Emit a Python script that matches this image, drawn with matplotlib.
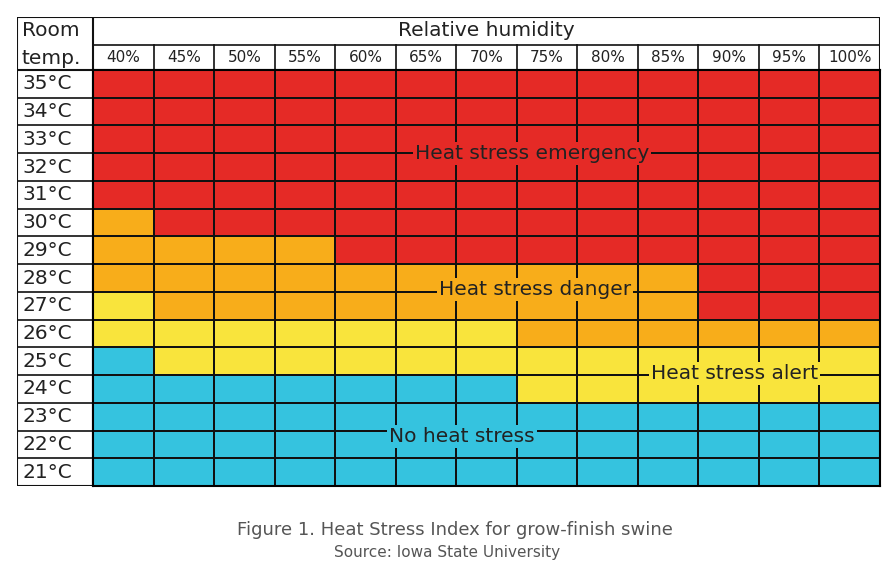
import numpy as np
import matplotlib.pyplot as plt
from matplotlib.colors import ListedColormap

humidity = ["40%", "45%", "50%", "55%", "60%", "65%", "70%", "75%", "80%", "85%", "90%", "95%", "100%"]
temps = ["35°C", "34°C", "33°C", "32°C", "31°C", "30°C", "29°C", "28°C", "27°C",
         "26°C", "25°C", "24°C", "23°C", "22°C", "21°C"]
# 0 = no heat stress, 1 = alert, 2 = danger, 3 = emergency
levels = [
    [3] * 13,
    [3] * 13,
    [3] * 13,
    [3] * 13,
    [3] * 13,
    [2] + [3] * 12,
    [2] * 4 + [3] * 9,
    [2] * 10 + [3] * 3,
    [1] + [2] * 9 + [3] * 3,
    [1] * 7 + [2] * 6,
    [0] + [1] * 12,
    [0] * 7 + [1] * 6,
    [0] * 13,
    [0] * 13,
    [0] * 13,
]
zone_labels = ["No heat stress", "Heat stress alert", "Heat stress danger", "Heat stress emergency"]
colors = ["#35c3df", "#f9e43c", "#f8ad1a", "#e52a26"]

W, H = 893, 568
fig = plt.figure(figsize=(W / 100, H / 100), dpi=100)
x0, x1, y0, y1 = 93, 880, 70, 486
ax = fig.add_axes([x0 / W, 1 - y1 / H, (x1 - x0) / W, (y1 - y0) / H])
grid = np.array(levels)
ax.pcolormesh(grid, cmap=ListedColormap(colors), vmin=-0.5, vmax=3.5,
              edgecolors="#111111", linewidth=1.2)
ax.set_xlim(0, 13)
ax.set_ylim(15, 0)
ax.set_xticks([])
ax.set_yticks([])
for s in ax.spines.values():
    s.set_linewidth(1.5)

# zone labels (x in columns, y in rows)
pos = [(6.1, 13.2, 0), (10.6, 10.95, 1), (7.3, 7.9, 2), (7.25, 3.0, 3)]
for x, y, lvl in pos:
    ax.text(x, y, zone_labels[lvl], ha="center", va="center", fontsize=14.5,
            color="#222222", bbox=dict(facecolor=colors[lvl], edgecolor="none", pad=1.5))

# header and row labels in pixel coordinates
def fx(px):
    return px / W

def fy(py):
    return 1 - py / H

hdr = fig.add_axes([17 / W, 1 - y1 / H, (x1 - 17) / W, (y1 - 17) / H])
hdr.set_xlim(17, x1)
hdr.set_ylim(y1, 17)
hdr.axis("off")
hdr.set_zorder(-1)
lw = 1.5
hdr.plot([17, x1, x1, 17, 17], [17, 17, y1, y1, 17], color="#111111", lw=lw)
hdr.plot([x0, x0], [17, y1], color="#111111", lw=lw)
hdr.plot([x0, x1], [45, 45], color="#111111", lw=1.2)
hdr.plot([17, x1], [y0, y0], color="#111111", lw=lw)
cw = (x1 - x0) / 13
for i in range(1, 13):
    hdr.plot([x0 + i * cw] * 2, [45, y0], color="#111111", lw=1.2)
rh = (y1 - y0) / 15
for i in range(1, 15):
    hdr.plot([17, x0], [y0 + i * rh] * 2, color="#111111", lw=1.2)

hdr.text((x0 + x1) / 2, 31, "Relative humidity", ha="center", va="center", fontsize=14.5, color="#222222")
hdr.text(22, 31, "Room", ha="left", va="center", fontsize=14.5, color="#222222")
hdr.text(22, 58, "temp.", ha="left", va="center", fontsize=14.5, color="#222222")
for i, h in enumerate(humidity):
    hdr.text(x0 + (i + 0.5) * cw, 58, h, ha="center", va="center", fontsize=11, color="#222222")
for i, t in enumerate(temps):
    hdr.text(22, y0 + (i + 0.5) * rh, t, ha="left", va="center", fontsize=14.5, color="#222222")

fig.text(fx(455), fy(530), "Figure 1. Heat Stress Index for grow-finish swine",
         ha="center", va="center", fontsize=13, color="#555555")
fig.text(fx(447), fy(553), "Source: Iowa State University",
         ha="center", va="center", fontsize=11, color="#555555")

fig.savefig("out.png", dpi=100, facecolor="white")
